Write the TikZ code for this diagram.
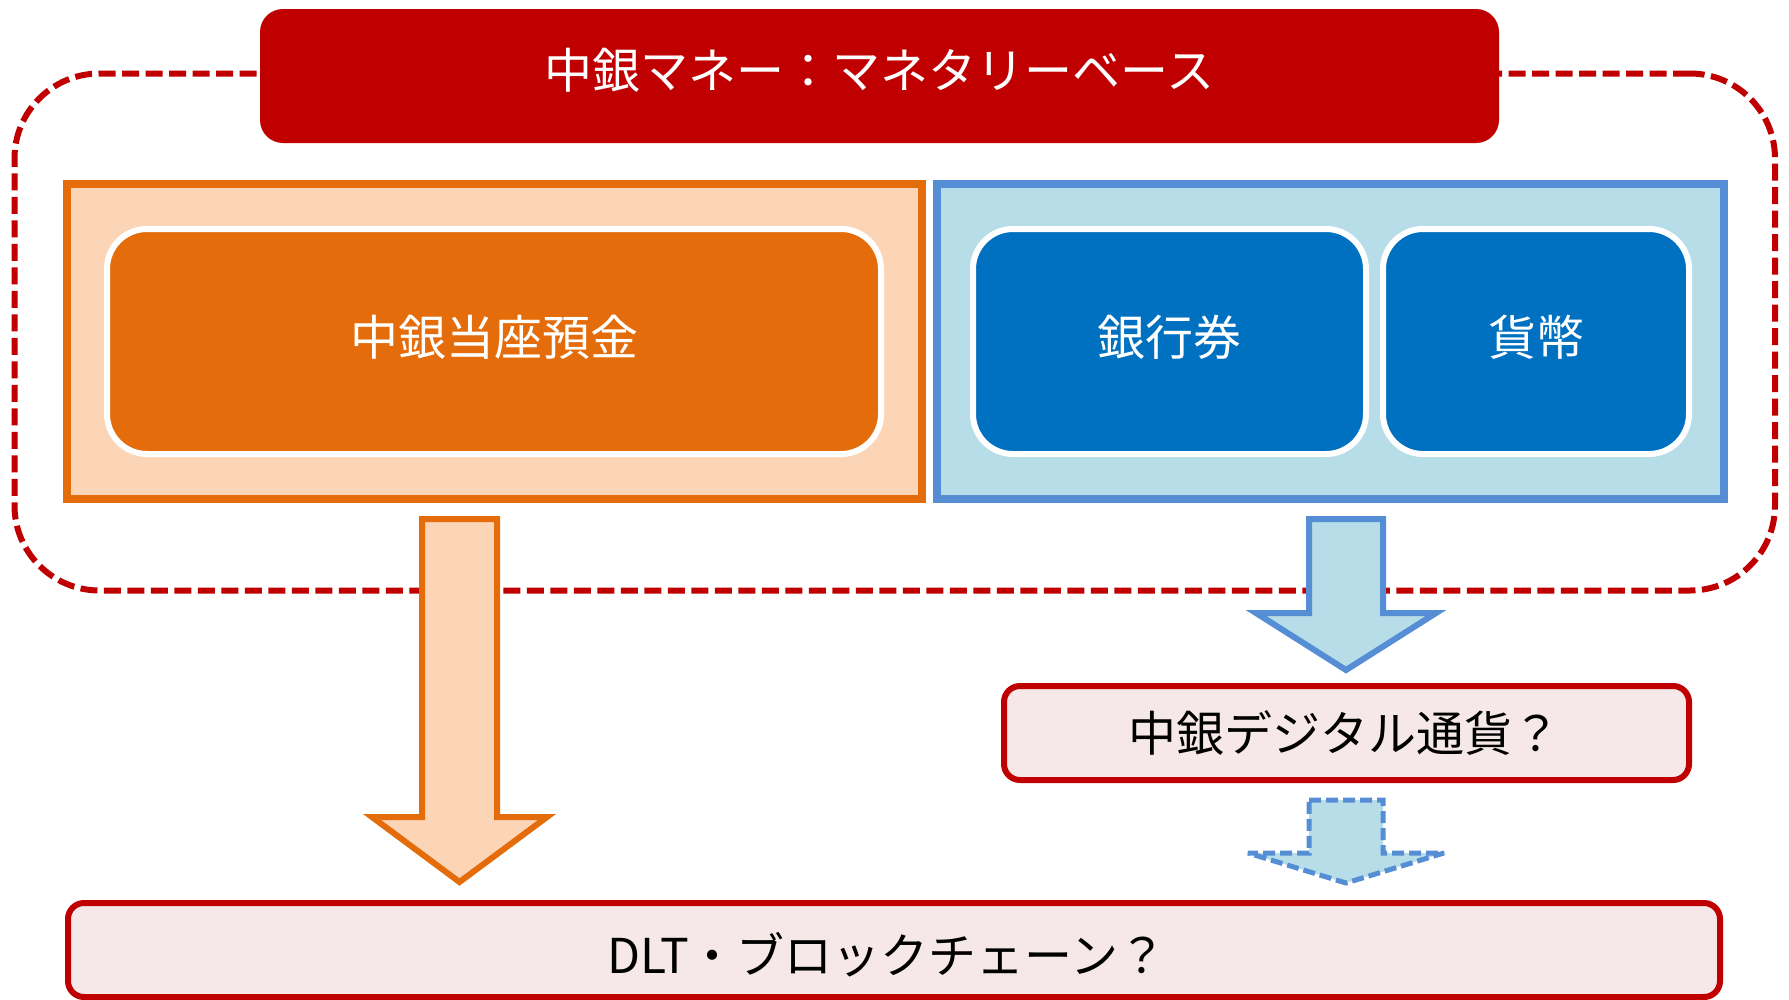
\documentclass[tikz,border=0pt]{standalone}
\usepackage{fontspec}
\setmainfont{Noto Sans CJK JP}
\usetikzlibrary{calc}
\definecolor{dred}{HTML}{C00000}
\definecolor{orng}{HTML}{E46C0A}
\definecolor{peach}{HTML}{FBD5B5}
\definecolor{lblue}{HTML}{B7DDE8}
\definecolor{bborder}{HTML}{558ED5}
\definecolor{dblue}{HTML}{0070C0}
\definecolor{pinkfill}{HTML}{F6E8E8}
\begin{document}
\begin{tikzpicture}[x=1pt,y=-1pt,
  every node/.style={inner sep=0pt, outer sep=0pt, font=\fontsize{48pt}{57pt}\selectfont},
  framebox/.style={draw=dred, line width=6pt, dash pattern=on 17pt off 6.5pt, rounded corners=85pt},
  titlebox/.style={fill=dred, rounded corners=23pt, text=white},
  obox/.style={draw=orng, fill=peach, line width=8pt},
  bbox/.style={draw=bborder, fill=lblue, line width=8pt},
  oinner/.style={draw=white, fill=orng, line width=6pt, rounded corners=40pt, text=white},
  binner/.style={draw=white, fill=dblue, line width=6pt, rounded corners=40pt, text=white},
  pinkbox/.style={draw=dred, fill=pinkfill, line width=6pt, rounded corners=16pt, text=black},
  oarrow/.style={draw=orng, fill=peach, line width=6pt, line join=miter},
  barrow/.style={draw=bborder, fill=lblue, line width=6pt, line join=miter},
  dbarrow/.style={draw=bborder, fill=lblue, line width=5pt, dash pattern=on 12pt off 5pt, line join=miter, miter limit=2}
]
\useasboundingbox (0,0) rectangle (1789,999);
\fill[white] (0,0) rectangle (1789,999);

% dashed frame
\node[framebox, minimum width=1760.5pt, minimum height=517pt] (frame) at (894.75,332) {};

% title
\node[titlebox, minimum width=1239pt, minimum height=134pt] (title) at (879.5,76) {};
\node[text=white] (titletext) at (879.5,70) {中銀マネー：マネタリーベース};

% outer boxes
\node[obox, minimum width=855pt, minimum height=315pt] (left) at (494.5,341.5) {};
\node[bbox, minimum width=787pt, minimum height=315pt] (right) at (1330.5,341.5) {};

% inner boxes
\node[oinner, minimum width=774pt, minimum height=225pt] (touza) at (494,341.5) {};
\node[text=white] at ($(touza.center)+(0,-4)$) {中銀当座預金};
\node[binner, minimum width=393pt, minimum height=225pt] (ginkouken) at (1169.5,341.5) {};
\node[text=white] at ($(ginkouken.center)+(0,-4)$) {銀行券};
\node[binner, minimum width=306pt, minimum height=225pt] (kahei) at (1536,341.5) {};
\node[text=white] at ($(kahei.center)+(0,-4)$) {貨幣};

% orange arrow
\draw[oarrow] (422,519) -- (497,519) -- (497,817) -- (547,817) -- (459.5,882) -- (372,817) -- (422,817) -- cycle;

% blue solid arrow
\draw[barrow] (1309,519) -- (1383,519) -- (1383,613) -- (1436,613) -- (1346,670) -- (1256,613) -- (1309,613) -- cycle;

% CBDC box
\node[pinkbox, minimum width=685pt, minimum height=94pt] (cbdc) at (1346.5,733) {};
\node (cbdctext) at ($(cbdc.center)+(-2,0)$) {中銀デジタル通貨？};

% dashed blue arrow
\draw[dbarrow] (1309,800) -- (1383,800) -- (1383,853) -- (1444,853) -- (1346,883) -- (1248,853) -- (1309,853) -- cycle;

% DLT box
\node[pinkbox, minimum width=1652pt, minimum height=94pt] (dlt) at (894,950) {};
\node (dlttext) at (887,955) {DLT・ブロックチェーン？};
\end{tikzpicture}
\end{document}
